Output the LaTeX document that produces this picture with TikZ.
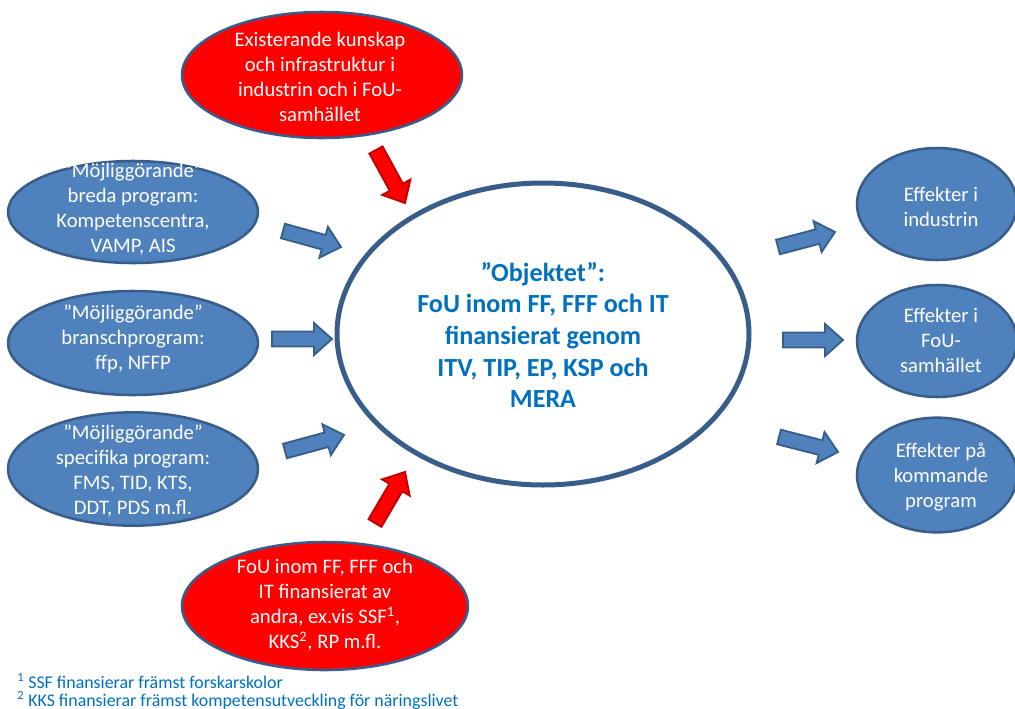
\documentclass[tikz,border=0pt]{standalone}
\usepackage{fontspec}
\setmainfont{Carlito}
\usetikzlibrary{calc,shapes.geometric}
\definecolor{bfill}{HTML}{4F81BD}
\definecolor{bline}{HTML}{385D8A}
\definecolor{rfill}{HTML}{FF0000}
\definecolor{rline}{HTML}{C00000}
\definecolor{tblue}{HTML}{0070C0}
\newcommand\blockarr[4]{%
 \path (#1) coordinate (s) (#2) coordinate (t) ($(t)!13.5pt!(s)$) coordinate (b);
 \filldraw[fill=#3,draw=#4,line width=1.4pt,line join=miter]
   ($(s)!5.6pt!90:(t)$) -- ($(b)!5.6pt!90:(t)$) -- ($(b)!12pt!90:(t)$) -- (t)
   -- ($(b)!12pt!-90:(t)$) -- ($(b)!5.6pt!-90:(t)$) -- ($(s)!5.6pt!-90:(t)$) -- cycle;}
\tikzset{
 ell/.style={ellipse, inner sep=0pt, line width=1.9pt, draw=bline},
 blueell/.style={ell, fill=bfill},
 redell/.style={ell, fill=rfill},
 wtext/.style={text=white, align=center, font=\fontsize{15.5}{18.7}\selectfont, inner sep=0pt},
 ctext/.style={text=tblue, align=center, font=\bfseries\fontsize{19.6}{23.8}\selectfont, inner sep=0pt},
 fnote/.style={text=tblue, anchor=base west, inner sep=0pt, font=\fontsize{13.4}{15}\selectfont}
}
\begin{document}
\begin{tikzpicture}[x=0.75pt,y=-0.75pt]
\useasboundingbox (0,0) rectangle (1015,708);
% ellipses
\node[redell, minimum width=210pt, minimum height=94.5pt] (top) at (322,75) {};
\node[wtext] (toptxt) at (320,77) {Existerande kunskap\\och infrastruktur i\\industrin och i FoU-\\samhället};
\node[redell, minimum width=214.5pt, minimum height=96pt] (bot) at (325,606) {};
\node[wtext] (bottxt) at (325,605) {FoU inom FF, FFF och\\IT finansierat av\\andra, ex.vis SSF\textsuperscript{1},\\KKS\textsuperscript{2}, RP m.fl.};
\node[blueell, minimum width=187.5pt, minimum height=76.5pt] (l1) at (133,212) {};
\node[wtext] (l1txt) at (133,209) {”Möjliggörande”\\breda program:\\Kompetenscentra,\\VAMP, AIS};
\node[blueell, minimum width=187.5pt, minimum height=78pt] (l2) at (133,343) {};
\node[wtext] (l2txt) at (133,339) {”Möjliggörande”\\branschprogram:\\ffp, NFFP};
\node[blueell, minimum width=187.5pt, minimum height=85pt] (l3) at (133,469) {};
\node[wtext] (l3txt) at (133,471) {”Möjliggörande”\\specifika program:\\FMS, TID, KTS,\\DDT, PDS m.fl.};
\node[blueell, minimum width=120pt, minimum height=84pt] (r1) at (937,204) {};
\node[wtext] (r1txt) at (941,207) {Effekter i\\industrin};
\node[blueell, minimum width=120pt, minimum height=84pt] (r2) at (937,341) {};
\node[wtext] (r2txt) at (941,340) {Effekter i\\FoU-\\samhället};
\node[blueell, minimum width=120pt, minimum height=86pt] (r3) at (937,475) {};
\node[wtext] (r3txt) at (941,477) {Effekter på\\kommande\\program};
\node[ellipse, inner sep=0pt, draw=bline, fill=white, line width=3.75pt, minimum width=309pt, minimum height=226.5pt] (c) at (543,334) {};
\node[ctext] (ctxt) at (543,335) {”Objektet”:\\FoU inom FF, FFF och IT\\finansierat genom\\ITV, TIP, EP, KSP och\\MERA};
% arrow coordinates
\coordinate (a1s) at (376,150); \coordinate (a1t) at (405,203);
\coordinate (a2s) at (283,231); \coordinate (a2t) at (341,247);
\coordinate (a3s) at (272,339); \coordinate (a3t) at (332,339);
\coordinate (a4s) at (285,451); \coordinate (a4t) at (344,435);
\coordinate (a5s) at (375,523); \coordinate (a5t) at (405,472);
\coordinate (a6s) at (778,247); \coordinate (a6t) at (835,232);
\coordinate (a7s) at (783,340); \coordinate (a7t) at (843,340);
\coordinate (a8s) at (779,437); \coordinate (a8t) at (838,452);
\blockarr{a1s}{a1t}{rfill}{rline}
\blockarr{a2s}{a2t}{bfill}{bline}
\blockarr{a3s}{a3t}{bfill}{bline}
\blockarr{a4s}{a4t}{bfill}{bline}
\blockarr{a5s}{a5t}{rfill}{rline}
\blockarr{a6s}{a6t}{bfill}{bline}
\blockarr{a7s}{a7t}{bfill}{bline}
\blockarr{a8s}{a8t}{bfill}{bline}
% footnotes
\node[fnote] (fn1) at (17,688) {\textsuperscript{1} SSF finansierar främst forskarskolor};
\node[fnote] (fn2) at (17,706) {\textsuperscript{2} KKS finansierar främst kompetensutveckling för näringslivet};
\end{tikzpicture}
\end{document}
